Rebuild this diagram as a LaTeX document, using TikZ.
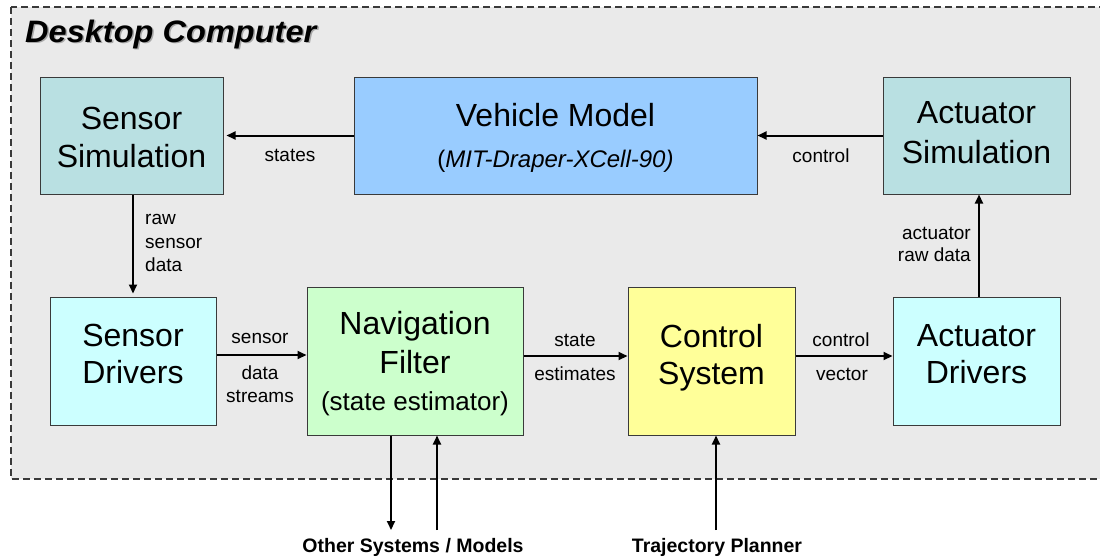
\documentclass[tikz,border=0pt]{standalone}
\usepackage{fontspec}
\usepackage{graphicx}
\setmainfont{Liberation Sans}
\usetikzlibrary{arrows.meta}

\definecolor{bggray}{HTML}{EAEAEA}
\definecolor{edgegray}{HTML}{3A3A3A}
\definecolor{shadowgray}{HTML}{A8A8A8}
\definecolor{simfill}{HTML}{B9E0E2}
\definecolor{modelfill}{HTML}{99CCFF}
\definecolor{drvfill}{HTML}{CCFFFF}
\definecolor{navfill}{HTML}{CCFFCC}
\definecolor{ctrlfill}{HTML}{FFFF99}

\newcommand{\bigtxt}{\fontsize{32}{38}\selectfont}
\newcommand{\midtxt}{\fontsize{26}{30}\selectfont}
\newcommand{\subtxt}{\fontsize{24}{28}\selectfont}
\newcommand{\lbltxt}{\fontsize{19}{23}\selectfont}
\newcommand{\titletxt}{\scalebox{1.05}[1]{Desktop Computer}}

\tikzset{
  region/.style={draw=edgegray, fill=bggray, line width=1.2pt, dash pattern=on 7pt off 4pt},
  titlestyle/.style={anchor=base west, inner sep=0pt, font=\fontsize{31}{36}\selectfont\bfseries\itshape},
  blk/.style={draw=edgegray, line width=1pt, rectangle, inner sep=0pt},
  boxtext/.style={anchor=base, inner sep=0pt, font=\bigtxt},
  lbl/.style={anchor=base, inner sep=0pt, font=\lbltxt},
  extlbl/.style={anchor=base, inner sep=0pt, font=\fontsize{19.5}{23}\selectfont\bfseries},
  arr/.style={line width=2pt, -{Triangle[length=9pt,width=8pt]}}
}

\begin{document}
\begin{tikzpicture}[x=1pt,y=-1pt]
  \clip (0,0) rectangle (1100,558);
  \fill[white] (0,0) rectangle (1100,558);

  % dashed boundary of the desktop computer
  \draw[region] (11,7) rectangle (1115,479);
  \node[titlestyle, text=shadowgray] (titleShadow) at (26.5,43.5) {\titletxt};
  \node[titlestyle] (title) at (25,42) {\titletxt};

  % blocks
  \node[blk, fill=simfill,   minimum width=183pt, minimum height=117pt] (ss) at (131.5,135.5) {};
  \node[blk, fill=modelfill, minimum width=403pt, minimum height=117pt] (vm) at (555.5,135.5) {};
  \node[blk, fill=simfill,   minimum width=187pt, minimum height=117pt] (as) at (976.5,135.5) {};
  \node[blk, fill=drvfill,   minimum width=166pt, minimum height=128pt] (sd) at (133,361) {};
  \node[blk, fill=navfill,   minimum width=216pt, minimum height=148pt] (nf) at (415,361) {};
  \node[blk, fill=ctrlfill,  minimum width=167pt, minimum height=148pt] (cs) at (711.5,361) {};
  \node[blk, fill=drvfill,   minimum width=167pt, minimum height=128pt] (ad) at (976.5,361) {};

  % block texts
  \node[boxtext] (ssA) at (131.5,129) {Sensor};
  \node[boxtext] (ssB) at (131.5,167) {Simulation};
  \node[boxtext] (vmA) at (555.5,126) {Vehicle Model};
  \node[boxtext, font=\subtxt] (vmB) at (555.5,167) {(\textit{MIT-Draper-XCell-90)}};
  \node[boxtext] (asA) at (976.5,123) {Actuator};
  \node[boxtext] (asB) at (976.5,163) {Simulation};
  \node[boxtext] (sdA) at (133,346) {Sensor};
  \node[boxtext] (sdB) at (133,383) {Drivers};
  \node[boxtext] (nfA) at (415,334) {Navigation};
  \node[boxtext] (nfB) at (415,373) {Filter};
  \node[boxtext, font=\midtxt] (nfC) at (415,410) {(state estimator)};
  \node[boxtext] (csA) at (711.5,347) {Control};
  \node[boxtext] (csB) at (711.5,384) {System};
  \node[boxtext] (adA) at (976.5,346) {Actuator};
  \node[boxtext] (adB) at (976.5,383) {Drivers};

  % connectors between blocks
  \draw[arr, shorten >=3pt] (vm.west) -- (ss.east);
  \draw[arr] (as.west) -- (vm.east);
  \draw[arr, shorten >=3pt] (sd.north |- ss.south) -- (sd.north);
  \draw[arr] ([yshift=6pt]sd.east) -- ([yshift=6pt]sd.east -| nf.west);
  \draw[arr] ([yshift=5pt]nf.east) -- ([yshift=5pt]nf.east -| cs.west);
  \draw[arr] ([yshift=5pt]cs.east) -- ([yshift=5pt]cs.east -| ad.west);
  \draw[arr] ([xshift=2.5pt]ad.north) -- ([xshift=2.5pt]ad.north |- as.south);

  % connectors leaving the desktop computer
  \coordinate (oOut) at (391,530);
  \coordinate (oIn)  at (437,530);
  \coordinate (tIn)  at (716,530);
  \draw[arr] (nf.south -| oOut) -- (oOut);
  \draw[arr] (oIn) -- (nf.south -| oIn);
  \draw[arr] (tIn) -- (cs.south -| tIn);

  % connector labels
  \node[lbl] (lStates) at (290,161) {states};
  \node[lbl] (lCtrl) at (821,162) {control};
  \node[lbl, anchor=base west] (lRaw1) at (145,224) {raw};
  \node[lbl, anchor=base west] (lRaw2) at (145,248) {sensor};
  \node[lbl, anchor=base west] (lRaw3) at (145,271) {data};
  \node[lbl] (lSd1) at (260,343) {sensor};
  \node[lbl] (lSd2) at (260,379) {data};
  \node[lbl] (lSd3) at (260,402) {streams};
  \node[lbl] (lSe1) at (575,346) {state};
  \node[lbl] (lSe2) at (575,380) {estimates};
  \node[lbl] (lCv1) at (841,346) {control};
  \node[lbl] (lCv2) at (842,380) {vector};
  \node[lbl, anchor=base east] (lAr1) at (971,239) {actuator};
  \node[lbl, anchor=base east] (lAr2) at (971,261) {raw data};

  % external parties
  \node[extlbl] (other) at (413,552) {Other Systems / Models};
  \node[extlbl] (traj) at (717,552) {Trajectory Planner};
\end{tikzpicture}
\end{document}
